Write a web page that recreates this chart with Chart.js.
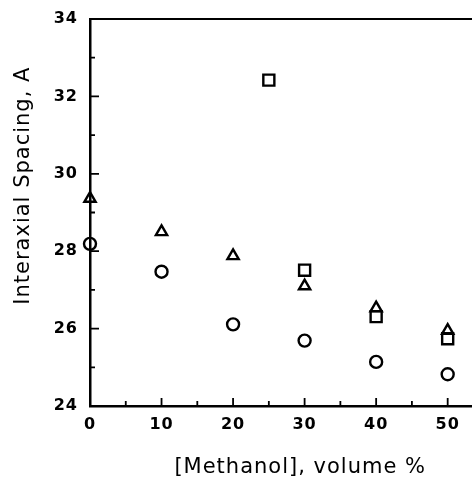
<!DOCTYPE html>
<html>
<head>
<meta charset="utf-8">
<script src="https://cdn.jsdelivr.net/npm/chart.js@4/dist/chart.umd.min.js"></script>
<style>
  html, body { margin: 0; padding: 0; background: #fff; }
  #wrap { width: 472px; height: 478px; }
</style>
</head>
<body>
<div id="wrap"><canvas id="chart"></canvas></div>
<script>
// methanol volume % for each series
var methanolCircle = [0, 10, 20, 30, 40, 50];
var spacingCircle = [28.19, 27.47, 26.11, 25.69, 25.14, 24.82];

var methanolTriangle = [0, 10, 20, 30, 40, 50];
var spacingTriangle = [29.36, 28.5, 27.88, 27.1, 26.53, 25.95];

var methanolSquare = [25, 30, 40, 50];
var spacingSquare = [32.42, 27.51, 26.31, 25.74];

var xTicks = [0, 10, 20, 30, 40, 50];
var yTicks = [24, 26, 28, 30, 32, 34];

function toPoints(xs, ys){
	var pts = [];
	for (var i = 0; i < xs.length; i++) pts.push({x: xs[i], y: ys[i]});
	return pts;
}

function makeSet(label, xs, ys, style, radius){
	return {
		label: label,
		data: toPoints(xs, ys),
		pointStyle: style,
		pointRadius: radius,
		pointBorderWidth: 2.4,
		pointBorderColor: '#000',
		pointBackgroundColor: 'rgba(0,0,0,0)',
		showLine: false,
		clip: false
	};
}

// letter spacing for the wide typewriter-like lettering
var spacing = {
	id: 'spacing',
	beforeInit: function(chart){ chart.ctx.letterSpacing = '1px'; },
	beforeDraw: function(chart){ chart.ctx.letterSpacing = '1px'; }
};

// inward ticks + top border line, drawn from the scales
var frame = {
	id: 'frame',
	afterDatasetsDraw: function(chart){
		var ctx = chart.ctx, a = chart.chartArea;
		var xs = chart.scales.x, ys = chart.scales.y;
		ctx.save();
		ctx.strokeStyle = '#000';
		ctx.lineWidth = 2;
		ctx.beginPath();
		ctx.moveTo(a.left, a.top);
		ctx.lineTo(a.right, a.top);
		ctx.stroke();
		ctx.lineWidth = 1.8;
		ctx.beginPath();
		for (var v = 5; v <= 50; v += 5){
			var px = xs.getPixelForValue(v);
			var len = (v % 10 === 0) ? 8 : 5;
			ctx.moveTo(px, a.bottom);
			ctx.lineTo(px, a.bottom - len);
		}
		for (var w = 25; w < 34; w += 1){
			var py = ys.getPixelForValue(w);
			var l = (w % 2 === 0) ? 9 : 5;
			ctx.moveTo(a.left, py);
			ctx.lineTo(a.left + l, py);
		}
		ctx.stroke();
		ctx.restore();
	}
};

var ctx = document.getElementById('chart').getContext('2d');
var myChart = new Chart(ctx, {
	type: 'scatter',
	data: {
		datasets: [
			makeSet('circle', methanolCircle, spacingCircle, 'circle', 6),
			makeSet('triangle', methanolTriangle, spacingTriangle, 'triangle', 6.5),
			makeSet('square', methanolSquare, spacingSquare, 'rect', 7.8)
		]
	},
	options: {
		responsive: true,
		maintainAspectRatio: false,
		animation: false,
		layout: { autoPadding: false, padding: { top: 19, right: 0, left: 0, bottom: 0 } },
		plugins: {
			legend: { display: false },
			tooltip: { enabled: false }
		},
		scales: {
			x: {
				type: 'linear',
				min: 0,
				max: 53.4,
				afterFit: function(s){ s.height = 72; s.paddingRight = 0; s.paddingLeft = 0; },
				afterBuildTicks: function(s){ s.ticks = xTicks.map(function(v){ return {value: v}; }); },
				grid: { display: false, drawTicks: false },
				border: { display: true, color: '#000', width: 2.5 },
				ticks: {
					padding: 9,
					color: '#000',
					font: { family: 'DejaVu Sans', size: 16, weight: 'bold' }
				},
				title: {
					display: true,
					text: '     [Methanol], volume %',
					color: '#000',
					padding: { top: 0, bottom: -2 },
					font: { family: 'DejaVu Sans', size: 21 }
				}
			},
			y: {
				type: 'linear',
				min: 24,
				max: 34,
				afterFit: function(s){ s.width = 90; s.paddingTop = 0; s.paddingBottom = 0; },
				afterBuildTicks: function(s){ s.ticks = yTicks.map(function(v){ return {value: v}; }); },
				grid: { display: false, drawTicks: false },
				border: { display: true, color: '#000', width: 2.5 },
				ticks: {
					padding: 12,
					color: '#000',
					font: { family: 'DejaVu Sans', size: 16, weight: 'bold' }
				},
				title: {
					display: true,
					text: '       Interaxial Spacing, A',
					color: '#000',
					padding: { top: 11, bottom: 0 },
					font: { family: 'DejaVu Sans', size: 21 }
				}
			}
		}
	},
	plugins: [spacing, frame]
});
</script>
</body>
</html>
